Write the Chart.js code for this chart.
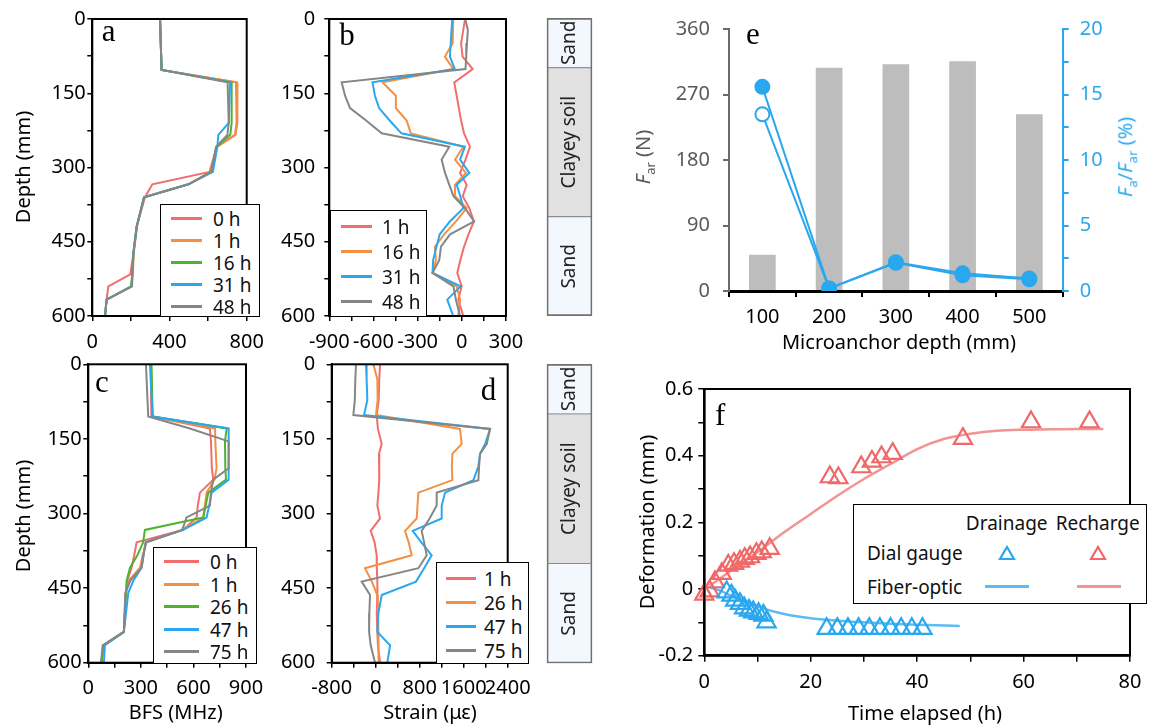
<!DOCTYPE html>
<html lang="en">
<head>
<meta charset="UTF-8">
<title>Microanchor profiles</title>
<style>
  body { margin: 0; background: #fff; font-family: "Noto Sans", sans-serif; }
  #wrap { position: relative; width: 1155px; height: 726px; overflow: hidden; }
  canvas { position: absolute; }
  .lg { position: absolute; background: #fff; border: 1.5px solid #000; box-sizing: border-box; font-size: 19px; color: #111; }
  .lg span { position: absolute; white-space: nowrap; line-height: 1; transform: translateY(-50%); }
  .lg i.sw { position: absolute; height: 3px; }
  .lg svg { position: absolute; transform: translate(-50%, -50%); }
  .lbl { position: absolute; font-family: "Liberation Serif", serif; font-size: 31px; line-height: 1; }
  .t { position: absolute; white-space: nowrap; font-size: 20px; line-height: 1.2; transform: translate(-50%, -50%); }
  .t.r { transform: translate(-50%, -50%) rotate(-90deg); }
</style>
</head>
<body>
<div id="wrap">
  <canvas id="ca" width="270" height="355" style="left:0;top:0"></canvas>
  <canvas id="cb" width="262" height="355" style="left:270px;top:0"></canvas>
  <canvas id="cs1" width="53" height="306" style="left:543px;top:14px"></canvas>
  <canvas id="cc" width="270" height="381" style="left:0;top:345px"></canvas>
  <canvas id="cd" width="262" height="381" style="left:270px;top:345px"></canvas>
  <canvas id="cs2" width="53" height="307" style="left:543px;top:360px"></canvas>
  <canvas id="ce" width="525" height="360" style="left:630px;top:0"></canvas>
  <canvas id="cf" width="525" height="356" style="left:630px;top:370px"></canvas>
</div>
<script src="https://cdn.jsdelivr.net/npm/chart.js"></script>
<script>
// ---- data: panel a (BFS, drainage) ----
const depthA = [0, 103, 128, 210, 234, 258, 309, 334, 360, 419, 473, 516, 540, 567, 600];
const bfsA0h  = [351, 359, 745, 748, 739, 645, 607, 311, 273, 230, 213, 197, 83, 74, 66];
const bfsA1h  = [351, 359, 750, 752, 742, 648, 612, 498, 268, 232, 215, 210, 206, 74, 66];
const bfsA16h = [351, 359, 722, 722, 715, 645, 615, 498, 268, 230, 213, 207, 200, 74, 66];
const bfsA31h = [351, 359, 714, 707, 653, 648, 625, 498, 268, 230, 213, 207, 204, 74, 66];
const bfsA48h = [351, 359, 701, 707, 700, 641, 617, 498, 268, 230, 213, 207, 204, 74, 66];
const labelsA = ['0 h', '1 h', '16 h', '31 h', '48 h'];

// ---- panel b (strain, drainage) ----
const depthB = [0, 22, 49, 76, 101, 128, 155, 180, 205, 231, 258, 284, 311, 335, 358, 382, 409, 435, 460, 487, 513, 540, 567, 600];
const strainB1h  = [22, 10, -5, 5, 74, -51, -35, -20, -5, 15, 55, 25, -12, 33, 6, 51, 82, 45, 15, -10, -31, -1, -24, 10];
const strainB16h = [-58, -60, -62, -115, -58, -538, -448, -448, -375, -346, 10, -46, 28, -46, -46, 33, -40, -120, -183, -176, -199, -35, -12, -24];
const strainB31h = [-65, -70, -75, -81, -48, -607, -590, -562, -490, -410, 21, -12, 51, -35, -10, 10, -81, -150, -172, -195, -199, -8, -99, -58];
const strainB48h = [23, 41, 35, 30, 25, -816, -793, -759, -650, -544, -85, -137, -114, -85, -57, 21, 84, -80, -142, -153, -199, -57, -40, -12];
const labelsB = ['1 h', '16 h', '31 h', '48 h'];

// ---- panel c (BFS, recharge) ----
const depthC = [0, 105, 129, 155, 209, 232, 258, 284, 308, 333, 358, 384, 409, 435, 460, 538, 565, 600];
const bfsC0h  = [356, 360, 694, 700, 705, 713, 637, 625, 618, 540, 276, 262, 247, 222, 215, 203, 86, 76];
const bfsC1h  = [356, 367, 723, 725, 732, 720, 675, 665, 656, 538, 333, 310, 295, 230, 215, 203, 86, 76];
const bfsC26h = [361, 367, 790, 780, 782, 786, 685, 670, 656, 323, 313, 280, 238, 219, 215, 203, 86, 76];
const bfsC47h = [352, 367, 801, 801, 801, 801, 704, 690, 675, 542, 327, 315, 304, 257, 228, 203, 95, 89];
const bfsC75h = [329, 342, 580, 801, 801, 713, 700, 694, 561, 536, 328, 315, 304, 240, 211, 203, 82, 72];
const labelsC = ['0 h', '1 h', '26 h', '47 h', '75 h'];

// ---- panel d (strain, recharge) ----
const depthD = [0, 30, 72, 102, 130, 160, 180, 205, 233, 258, 284, 310, 335, 358, 384, 410, 437, 464, 500, 538, 565, 600];
const strainD1h  = [79, 65, 55, 18, 40, 109, 60, 70, 60, 50, 30, 79, -91, -20, 18, 20, 30, 30, 20, 30, 40, 79];
const strainD26h = [-42, 30, 35, 6, 1533, 1563, 1394, 1385, 1394, 776, 760, 745, 533, 600, 655, -194, -70, 30, 40, 50, 55, 48];
const strainD47h = [-176, -165, -152, -212, 2079, 1990, 1897, 1867, 1776, 1261, 1200, 1200, 673, 830, 1018, 880, 733, 109, 50, 30, 261, 212];
const strainD75h = [-358, -370, -380, -406, 2079, 2020, 1897, 1880, 1867, 1109, 1109, 980, 836, 880, 927, 776, -255, -103, -115, -120, -91, -12];
const labelsD = ['1 h', '26 h', '47 h', '75 h'];

// ---- soil column ----
const soilLayers = ['Sand', 'Clayey soil', 'Sand'];
const soilThickness = [100, 300, 200];

// ---- panel e ----
const anchorDepth = ['100', '200', '300', '400', '500'];
const anchorForce = [50, 307, 312, 316, 243];
const ratioSolid  = [15.6, 0.2, 2.2, 1.35, 0.95];
const ratioHollow = [13.5, 0.2, 2.15, 1.2, 0.9];

// ---- panel f ----
const drainTime = [4.2, 5.1, 5.8, 6.7, 7.5, 8.4, 9.2, 10.2, 11.1, 11.7, 23, 25, 27, 29, 31, 33, 35, 37, 39, 41];
const drainDial = [-0.009, -0.019, -0.034, -0.044, -0.057, -0.064, -0.069, -0.074, -0.079, -0.099, -0.119, -0.119, -0.119, -0.119, -0.119, -0.119, -0.119, -0.119, -0.119, -0.119];
const rechTime = [0, 1, 2, 3.3, 4.5, 5.6, 6.7, 7.6, 8.6, 9.8, 10.8, 12.3, 23.6, 25.2, 29.5, 31.5, 33.3, 35.4, 48.6, 61.4, 72.4];
const rechDial = [-0.016, -0.006, 0.021, 0.046, 0.071, 0.076, 0.083, 0.091, 0.096, 0.106, 0.111, 0.121, 0.336, 0.333, 0.366, 0.383, 0.396, 0.406, 0.451, 0.501, 0.501];
const drainFiberT = [1, 3, 5, 8, 11, 15, 20, 25, 30, 35, 40, 48];
const drainFiber  = [0.005, -0.005, -0.02, -0.04, -0.058, -0.075, -0.088, -0.095, -0.1, -0.104, -0.107, -0.111];
const rechFiberT = [1, 5, 10, 15, 20, 25, 30, 35, 40, 45, 50, 55, 60, 65, 70, 75];
const rechFiber  = [0.01, 0.055, 0.11, 0.17, 0.225, 0.28, 0.33, 0.375, 0.42, 0.45, 0.466, 0.475, 0.478, 0.479, 0.48, 0.48];

const RED = '#f26d6d', ORANGE = '#f39044', GREEN = '#4cb52b', BLUE = '#29a7ef', GRAY = '#868686';
const FONT = '"Noto Sans", sans-serif';
Chart.defaults.font.family = FONT;
Chart.defaults.color = '#000';

const wrap = document.getElementById('wrap');

function pts(xs, ys) { return xs.map((v, i) => ({ x: v, y: ys[i] })); }

// fix the size of an axis box so the plot area lands where we want it
function fixAxis(size) {
  return s => {
    if (s.isHorizontal()) { s.height = size; s.paddingLeft = 0; s.paddingRight = 0; }
    else { s.width = size; s.paddingTop = 0; s.paddingBottom = 0; }
  };
}
function every(step) {
  return v => Math.abs(v / step - Math.round(v / step)) < 1e-6 ? String(Math.round(v * 100) / 100) : '';
}

const frame = {
  id: 'frame',
  afterDraw(c) {
    const a = c.chartArea, ctx = c.ctx;
    ctx.save(); ctx.strokeStyle = '#000'; ctx.lineWidth = 2;
    ctx.strokeRect(a.left, a.top, a.right - a.left, a.bottom - a.top);
    ctx.restore();
  }
};

function profile(id, depth, series, colors, xr, o) {
  new Chart(document.getElementById(id), {
    type: 'scatter',
    data: {
      datasets: series.map((s, i) => ({
        data: pts(s, depth), borderColor: colors[i], borderWidth: 2,
        showLine: true, pointRadius: 0, tension: 0, order: -i
      }))
    },
    options: {
      responsive: false, animation: false, events: [],
      layout: { padding: o.pad },
      plugins: { legend: { display: false }, tooltip: { enabled: false } },
      scales: {
        x: {
          type: 'linear', min: xr[0], max: xr[1], afterFit: fixAxis(o.xh),
          ticks: { stepSize: xr[2], autoSkip: false, maxRotation: 0, padding: 9, font: { size: 20 }, callback: every(xr[3]) },
          grid: { drawOnChartArea: false, tickLength: 5, color: '#000', lineWidth: 1.5 },
          border: { color: '#000', width: 2 }
        },
        y: {
          type: 'linear', reverse: true, min: 0, max: 600, afterFit: fixAxis(o.yw),
          ticks: { stepSize: 75, padding: o.yp, font: { size: 20 }, callback: every(150) },
          grid: { drawOnChartArea: false, tickLength: 5, color: '#000', lineWidth: 1.5 },
          border: { color: '#000', width: 2 }
        }
      }
    },
    plugins: [frame]
  });
}

const col5 = [RED, ORANGE, GREEN, BLUE, GRAY];
const col4 = [RED, ORANGE, BLUE, GRAY];

profile('ca', depthA, [bfsA0h, bfsA1h, bfsA16h, bfsA31h, bfsA48h], col5, [0, 800, 200, 400],
  { pad: { top: 19, right: 23.3 }, xh: 39, yw: 92.3, yp: 1.5 });
profile('cb', depthB, [strainB1h, strainB16h, strainB31h, strainB48h], col4, [-900, 300, 150, 300],
  { pad: { top: 19, right: 26 }, xh: 39, yw: 59.3, yp: 9 });
profile('cc', depthC, [bfsC0h, bfsC1h, bfsC26h, bfsC47h, bfsC75h], col5, [0, 900, 150, 300],
  { pad: { top: 19.3, right: 24 }, xh: 63.3, yw: 88.3, yp: 1.6 });
profile('cd', depthD, [strainD1h, strainD26h, strainD47h, strainD75h], col4, [-800, 2400, 400, 800],
  { pad: { top: 19.3, right: 24.3 }, xh: 63.3, yw: 61.7, yp: 11.5 });

// soil columns as one stacked bar
const soilText = {
  id: 'soilText',
  afterDatasetsDraw(c) {
    const ctx = c.ctx;
    c.data.datasets.forEach((ds, i) => {
      const el = c.getDatasetMeta(i).data[0];
      ctx.save();
      ctx.translate(el.x, (el.y + el.base) / 2);
      ctx.rotate(-Math.PI / 2);
      ctx.fillStyle = '#222'; ctx.font = '19px ' + FONT;
      ctx.textAlign = 'center'; ctx.textBaseline = 'middle';
      ctx.fillText(ds.label, 0, 0);
      ctx.restore();
    });
  }
};
function soil(id, pad) {
  const last = soilLayers.length - 1;
  new Chart(document.getElementById(id), {
    type: 'bar',
    data: {
      labels: ['layer'],
      datasets: soilLayers.map((name, i) => ({
        label: name, data: [soilThickness[i]],
        backgroundColor: name === 'Sand' ? '#f2f8fd' : '#e1e1e1',
        borderColor: '#707070',
        borderWidth: { left: 2, right: 2, top: i === 0 ? 2 : 0.8, bottom: i === last ? 2 : 0.8 },
        borderSkipped: false, barPercentage: 1, categoryPercentage: 1
      }))
    },
    options: {
      responsive: false, animation: false, events: [],
      layout: { padding: pad },
      plugins: { legend: { display: false }, tooltip: { enabled: false } },
      scales: {
        x: { display: false, stacked: true },
        y: { display: false, stacked: true, reverse: true, min: 0, max: 600 }
      }
    },
    plugins: [soilText]
  });
}
soil('cs1', { left: 3.7, right: 3.7, top: 4, bottom: 4 });
soil('cs2', { left: 3.7, right: 3.7, top: 4, bottom: 3.7 });

// panel e
new Chart(document.getElementById('ce'), {
  type: 'bar',
  data: {
    labels: anchorDepth,
    datasets: [
      { type: 'bar', data: anchorForce, backgroundColor: '#bdbdbd', barPercentage: 0.4, categoryPercentage: 1, yAxisID: 'y', order: 3 },
      { type: 'line', data: ratioHollow, borderColor: BLUE, borderWidth: 2, pointRadius: 7, pointBorderWidth: 2,
        pointBorderColor: BLUE, pointBackgroundColor: ['#fff', BLUE, BLUE, BLUE, BLUE], yAxisID: 'y2', order: 2 },
      { type: 'line', data: ratioSolid, borderColor: BLUE, borderWidth: 2, pointRadius: 7, pointBorderWidth: 2,
        pointBorderColor: BLUE, pointBackgroundColor: BLUE, yAxisID: 'y2', order: 1 }
    ]
  },
  options: {
    responsive: false, animation: false, events: [],
    layout: { padding: { top: 29.3 } },
    plugins: { legend: { display: false }, tooltip: { enabled: false } },
    scales: {
      x: {
        afterFit: fixAxis(69),
        ticks: { padding: 8, font: { size: 20 }, color: '#000' },
        grid: { offset: true, drawOnChartArea: false, tickLength: 6, color: '#000', lineWidth: 2 },
        border: { color: '#000', width: 3 }
      },
      y: {
        position: 'left', min: 0, max: 360, afterFit: fixAxis(99),
        ticks: { stepSize: 90, padding: 13, font: { size: 20 }, color: '#5a5a5a' },
        grid: { drawOnChartArea: false, tickLength: 6, color: '#6a6a6a', lineWidth: 2 },
        border: { color: '#6a6a6a', width: 2 }
      },
      y2: {
        position: 'right', min: 0, max: 20, afterFit: fixAxis(92.3),
        ticks: { stepSize: 2.5, padding: 11, font: { size: 20 }, color: BLUE, callback: every(5) },
        grid: { drawOnChartArea: false, tickLength: 6, color: BLUE, lineWidth: 2 },
        border: { color: BLUE, width: 2 }
      }
    }
  }
});

// panel f
new Chart(document.getElementById('cf'), {
  type: 'scatter',
  data: {
    datasets: [
      { data: pts(drainTime, drainDial), pointStyle: 'triangle', pointRadius: 10.5,
        pointBorderWidth: 2.2, borderColor: BLUE, backgroundColor: 'rgba(0,0,0,0)', clip: false, order: 1 },
      { data: pts(rechTime, rechDial), pointStyle: 'triangle', pointRadius: 10.5,
        pointBorderWidth: 2.2, borderColor: '#f06868', backgroundColor: 'rgba(0,0,0,0)', clip: false, order: 2 },
      { data: pts(drainFiberT, drainFiber), showLine: true, pointRadius: 0, borderColor: '#5bbcf2', borderWidth: 2.5,
        cubicInterpolationMode: 'monotone', order: 3 },
      { data: pts(rechFiberT, rechFiber), showLine: true, pointRadius: 0, borderColor: '#f39494', borderWidth: 2.5,
        cubicInterpolationMode: 'monotone', order: 4 }
    ]
  },
  options: {
    responsive: false, animation: false, events: [],
    layout: { padding: { top: 19, right: 25 } },
    plugins: { legend: { display: false }, tooltip: { enabled: false } },
    scales: {
      x: {
        type: 'linear', min: 0, max: 80, afterFit: fixAxis(70.3),
        ticks: { stepSize: 10, autoSkip: false, maxRotation: 0, padding: 9, font: { size: 20 }, callback: every(20) },
        grid: { drawOnChartArea: false, tickLength: 6, color: '#000', lineWidth: 1.5 },
        border: { color: '#000', width: 2.5 }
      },
      y: {
        type: 'linear', min: -0.2, max: 0.6, afterFit: fixAxis(74.3),
        ticks: { stepSize: 0.1, padding: 5, font: { size: 20 },
          callback: v => Math.abs(v * 5 - Math.round(v * 5)) < 1e-6 ? (Math.abs(v) < 1e-9 ? '0' : v.toFixed(1)) : '' },
        grid: { drawOnChartArea: false, tickLength: 6, color: '#000', lineWidth: 1.5 },
        border: { color: '#000', width: 2.5 }
      }
    }
  },
  plugins: [frame]
});

// ---- html overlays: legends, titles, panel letters ----
function add(html) { wrap.insertAdjacentHTML('beforeend', html); }

function legend(box, names, colors, rows, lx1, lx2, tx) {
  let h = `<div class="lg" style="left:${box[0]}px;top:${box[1]}px;width:${box[2]}px;height:${box[3]}px">`;
  names.forEach((n, i) => {
    h += `<i class="sw" style="left:${lx1}px;width:${lx2 - lx1}px;top:${Math.round(rows[i]) - 2}px;background:${colors[i]}"></i>`;
    h += `<span style="left:${tx}px;top:${rows[i]}px">${n}</span>`;
  });
  add(h + '</div>');
}
legend([160, 204, 100, 113], labelsA, col5, [14, 36, 58, 80, 102], 10, 41, 52);
legend([330, 210, 97, 107], labelsB, col4, [16, 41, 66, 91], 10, 41, 51);
legend([153, 547, 104, 117], labelsC, col5, [14, 37, 59, 82, 104], 10, 45, 56);
legend([436, 562, 93, 102], labelsD, col4, [16, 40, 64, 88], 9, 39, 47);

function tri(cx, cy, color) {
  return `<svg width="18" height="16" style="left:${cx}px;top:${cy}px"><polygon points="9,2 16,14 2,14" fill="none" stroke="${color}" stroke-width="2.2"/></svg>`;
}
add(`<div class="lg" style="left:853px;top:504px;width:294px;height:100px">
  <span style="left:152.7px;top:17.7px;transform:translate(-50%,-50%)">Drainage</span>
  <span style="left:243.7px;top:17.7px;transform:translate(-50%,-50%)">Recharge</span>
  <span style="left:13px;top:47.7px">Dial gauge</span>
  <span style="left:13px;top:82px">Fiber-optic</span>
  ${tri(152.7, 47.7, BLUE)}${tri(243.7, 47.7, '#f06868')}
  <i class="sw" style="left:131px;width:44px;top:80px;background:#5bbcf2"></i>
  <i class="sw" style="left:223px;width:44px;top:80px;background:#f39494"></i>
</div>`);

const titles = [
  ['Depth (mm)', 22.5, 167, true, '#000'],
  ['Depth (mm)', 22.5, 516, true, '#000'],
  ['BFS (MHz)', 175.7, 712, false, '#000'],
  ['Strain (με)', 430, 712, false, '#000'],
  ['<i>F</i><sub style="font-size:13px">ar</sub> (N)', 645, 157, true, '#5a5a5a'],
  ['<i>F</i><sub style="font-size:13px">a</sub>/<i>F</i><sub style="font-size:13px">ar</sub> (%)', 1126.7, 157, true, BLUE],
  ['Microanchor depth (mm)', 899, 342, false, '#000'],
  ['Deformation (mm)', 646.7, 522, true, '#000'],
  ['Time elapsed (h)', 925, 713, false, '#000']
];
titles.forEach(t => add(`<div class="t${t[3] ? ' r' : ''}" style="left:${t[1]}px;top:${t[2]}px;color:${t[4]}">${t[0]}</div>`));

const letters = [['a', 101.7, 41], ['b', 339.3, 45], ['c', 95, 391.7], ['d', 480.7, 400], ['e', 746, 44], ['f', 715, 425]];
letters.forEach(l => add(`<div class="lbl" style="left:${l[1]}px;top:${l[2] - 26}px">${l[0]}</div>`));
</script>
</body>
</html>
